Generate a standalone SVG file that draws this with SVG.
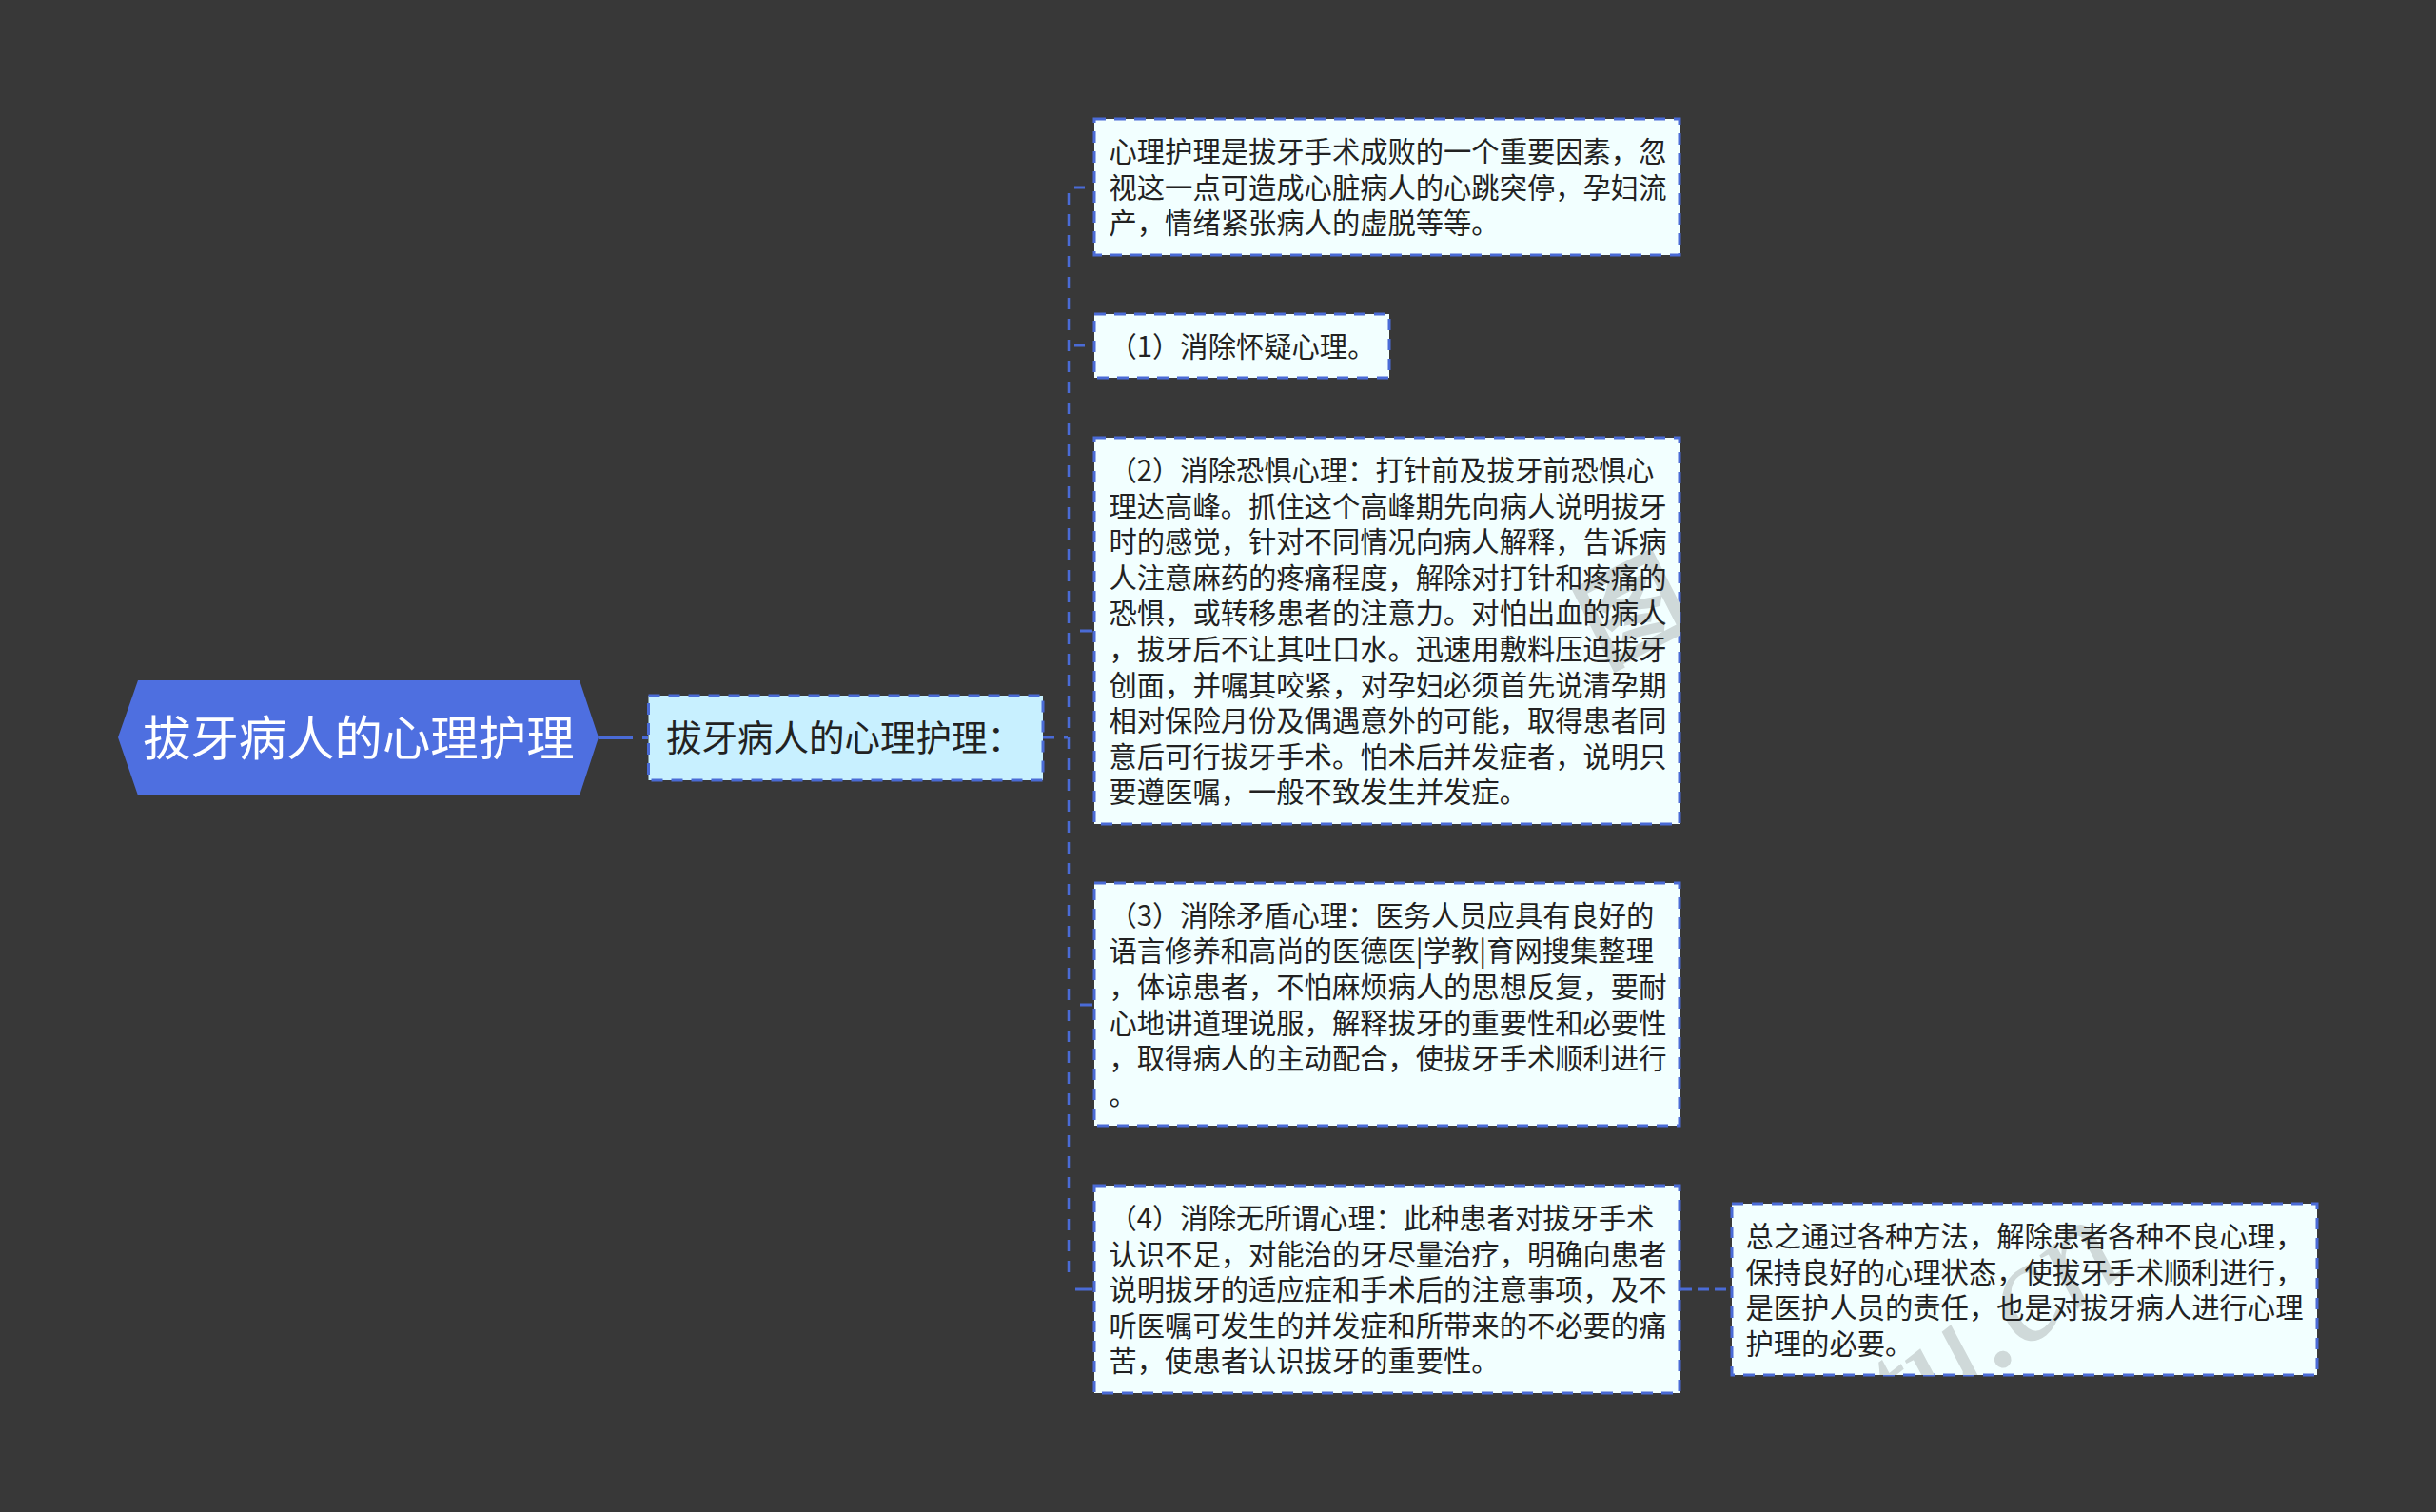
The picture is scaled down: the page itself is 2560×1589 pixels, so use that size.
<svg xmlns="http://www.w3.org/2000/svg" width="2560" height="1589" viewBox="0 0 2560 1589">
<defs>
<style>
.t{font-family:"Noto Sans CJK SC","Noto Sans",sans-serif;font-size:29.3px;fill:#222}
.box{fill:#f2ffff;stroke:#4a6bd6;stroke-width:3;stroke-dasharray:12 9}
.sub{fill:#c8f0ff}
.wm{fill:#cfd9d9}
.c{fill:none;stroke:#4a6bd6;stroke-width:3}
</style>
<clipPath id="c3"><rect x="1150" y="460" width="615" height="406"/></clipPath>
<clipPath id="c6"><rect x="1820" y="1265" width="615" height="180"/></clipPath>
</defs>
<rect width="2560" height="1589" fill="#383838"/>
<g id="connectors">
<path d="M629 775H681" style="fill:none;stroke:#4a6bd6;stroke-width:4;stroke-dasharray:36 10 6 100"/>
<path class="c" d="M1096 775H1122" stroke-dasharray="12 10 4 100"/>
<path class="c" d="M1123 203V1346" stroke-dasharray="12 10" style="stroke-width:2.5"/>
<path class="c" d="M1129 197H1140"/>
<path class="c" d="M1129 363H1140"/>
<path class="c" d="M1135 663H1148"/>
<path class="c" d="M1135 1056H1148"/>
<path class="c" d="M1130 1355H1148"/>
<path class="c" d="M1766 1355H1820" stroke-dasharray="12 6"/>
</g>
<g id="root">
<polygon points="124,775 145,715 609,715 629,775 609,836 145,836" fill="#4e6fe0"/>
<text x="150" y="794" style="font-family:'Noto Sans CJK SC','Noto Sans',sans-serif;font-size:50.4px;fill:#fff">拔牙病人的心理护理</text>
</g>
<g id="sub">
<rect class="box sub" x="681.5" y="731" width="414.5" height="89"/>
<text x="700" y="789" style="font-family:'Noto Sans CJK SC','Noto Sans',sans-serif;font-size:37.5px;fill:#222">拔牙病人的心理护理：</text>
</g>
<g id="n1">
<rect class="box" x="1150" y="125" width="615" height="143"/>
<text class="t" x="1165.5" y="170.1">心理护理是拔牙手术成败的一个重要因素，忽</text>
<text class="t" x="1165.5" y="207.7">视这一点可造成心脏病人的心跳突停，孕妇流</text>
<text class="t" x="1165.5" y="245.2">产，情绪紧张病人的虚脱等等。</text>
</g>
<g id="n2">
<rect class="box" x="1150" y="330" width="310" height="67"/>
<text class="t" x="1165.5" y="374.7">（1）消除怀疑心理。</text>
</g>
<g id="n3">
<rect class="box" x="1150" y="460" width="615" height="406"/>
<g clip-path="url(#c3)"><text class="wm" transform="translate(1685 702) rotate(-27)" style="font-family:'Noto Sans CJK SC',sans-serif;font-size:110px;font-weight:700">图</text></g>
<text class="t" x="1165.5" y="505.2">（2）消除恐惧心理：打针前及拔牙前恐惧心</text>
<text class="t" x="1165.5" y="542.8">理达高峰。抓住这个高峰期先向病人说明拔牙</text>
<text class="t" x="1165.5" y="580.3">时的感觉，针对不同情况向病人解释，告诉病</text>
<text class="t" x="1165.5" y="617.9">人注意麻药的疼痛程度，解除对打针和疼痛的</text>
<text class="t" x="1165.5" y="655.4">恐惧，或转移患者的注意力。对怕出血的病人</text>
<text class="t" x="1165.5" y="693">，拔牙后不让其吐口水。迅速用敷料压迫拔牙</text>
<text class="t" x="1165.5" y="730.5">创面，并嘱其咬紧，对孕妇必须首先说清孕期</text>
<text class="t" x="1165.5" y="768.1">相对保险月份及偶遇意外的可能，取得患者同</text>
<text class="t" x="1165.5" y="805.6">意后可行拔牙手术。怕术后并发症者，说明只</text>
<text class="t" x="1165.5" y="843.2">要遵医嘱，一般不致发生并发症。</text>
</g>
<g id="n4">
<rect class="box" x="1150" y="928" width="615" height="255"/>
<text class="t" x="1165.5" y="972.8">（3）消除矛盾心理：医务人员应具有良好的</text>
<text class="t" x="1165.5" y="1010.4">语言修养和高尚的医德医|学教|育网搜集整理</text>
<text class="t" x="1165.5" y="1047.9">，体谅患者，不怕麻烦病人的思想反复，要耐</text>
<text class="t" x="1165.5" y="1085.5">心地讲道理说服，解释拔牙的重要性和必要性</text>
<text class="t" x="1165.5" y="1123">，取得病人的主动配合，使拔牙手术顺利进行</text>
<text class="t" x="1165.5" y="1160.6">。</text>
</g>
<g id="n5">
<rect class="box" x="1150" y="1246" width="615" height="218"/>
<text class="t" x="1165.5" y="1291.1">（4）消除无所谓心理：此种患者对拔牙手术</text>
<text class="t" x="1165.5" y="1328.7">认识不足，对能治的牙尽量治疗，明确向患者</text>
<text class="t" x="1165.5" y="1366.2">说明拔牙的适应症和手术后的注意事项，及不</text>
<text class="t" x="1165.5" y="1403.8">听医嘱可发生的并发症和所带来的不必要的痛</text>
<text class="t" x="1165.5" y="1441.3">苦，使患者认识拔牙的重要性。</text>
</g>
<g id="n6">
<rect class="box" x="1820" y="1265" width="615" height="180"/>
<g clip-path="url(#c6)"><text class="wm" transform="translate(2005 1515) rotate(-38)" style="font-family:'Liberation Serif',serif;font-style:italic;font-size:150px">tu.cn</text></g>
<text class="t" x="1834.5" y="1309.9">总之通过各种方法，解除患者各种不良心理，</text>
<text class="t" x="1834.5" y="1347.5">保持良好的心理状态，使拔牙手术顺利进行，</text>
<text class="t" x="1834.5" y="1385">是医护人员的责任，也是对拔牙病人进行心理</text>
<text class="t" x="1834.5" y="1422.6">护理的必要。</text>
</g>
</svg>
